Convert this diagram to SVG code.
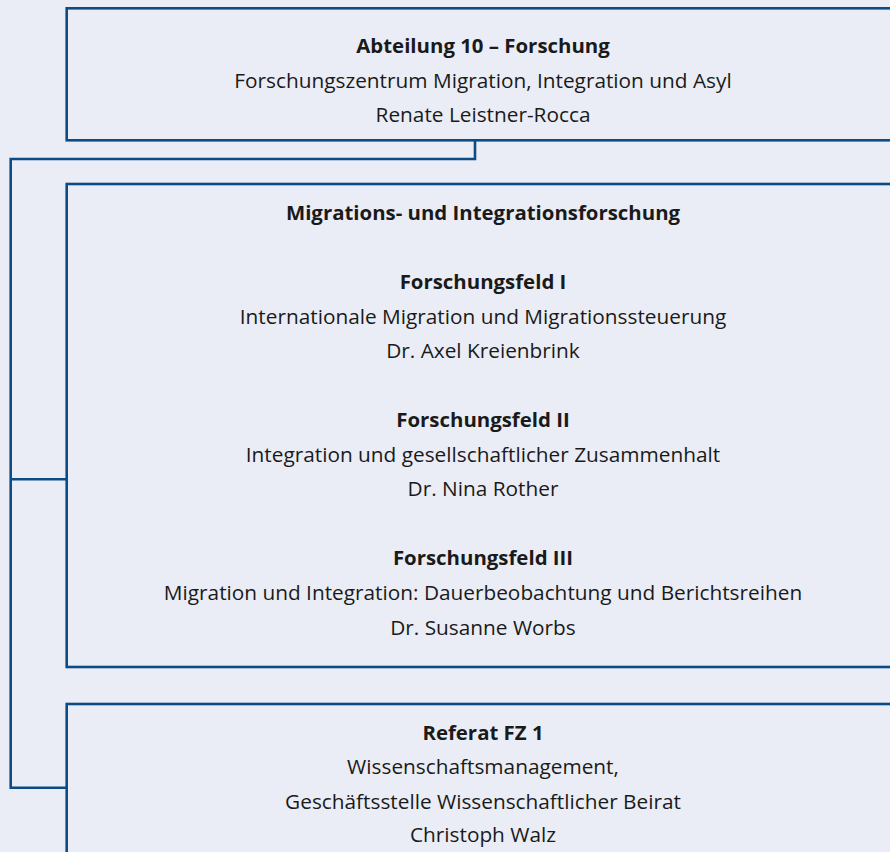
<svg xmlns="http://www.w3.org/2000/svg" width="890" height="852" viewBox="0 0 890 852">
<style>
.bg{fill:#eaedf5}
.box{fill:none;stroke:#0b4c86;stroke-width:2.6}
.con{fill:none;stroke:#0b4c86;stroke-width:2.6}
text{font-family:"Open Sans","Noto Sans",sans-serif;font-size:20.8px;fill:#1a1a1a;text-anchor:middle}
.b{font-weight:bold;font-size:20.4px}
</style>
<rect class="bg" x="0" y="0" width="890" height="852"/>
<g id="connectors">
<path class="con" d="M475,140.3 V159 H10.7 V787.7 H66.7"/>
<path class="con" d="M10.7,479.3 H66.7"/>
</g>
<g id="abteilung10">
<rect class="box" x="66.7" y="8.3" width="840" height="132"/>
<text class="b" x="483" y="53">Abteilung 10 – Forschung</text>
<text x="483" y="87.5">Forschungszentrum Migration, Integration und Asyl</text>
<text x="483" y="121.5">Renate Leistner-Rocca</text>
</g>
<g id="migrationsforschung">
<rect class="box" x="66.7" y="184" width="840" height="483"/>
<text class="b" x="483" y="220">Migrations- und Integrationsforschung</text>
<text class="b" x="483" y="288.5">Forschungsfeld I</text>
<text x="483" y="323.5">Internationale Migration und Migrationssteuerung</text>
<text x="483" y="358">Dr. Axel Kreienbrink</text>
<text class="b" x="483" y="427">Forschungsfeld II</text>
<text x="483" y="461.5">Integration und gesellschaftlicher Zusammenhalt</text>
<text x="483" y="496">Dr. Nina Rother</text>
<text class="b" x="483" y="565">Forschungsfeld III</text>
<text x="483" y="600">Migration und Integration: Dauerbeobachtung und Berichtsreihen</text>
<text x="483" y="634.5">Dr. Susanne Worbs</text>
</g>
<g id="referatFZ1">
<rect class="box" x="66.7" y="704" width="840" height="200"/>
<text class="b" x="483" y="739.5">Referat FZ 1</text>
<text x="483" y="774">Wissenschaftsmanagement,</text>
<text x="483" y="808.5">Geschäftsstelle Wissenschaftlicher Beirat</text>
<text x="483" y="842">Christoph Walz</text>
</g>
</svg>
